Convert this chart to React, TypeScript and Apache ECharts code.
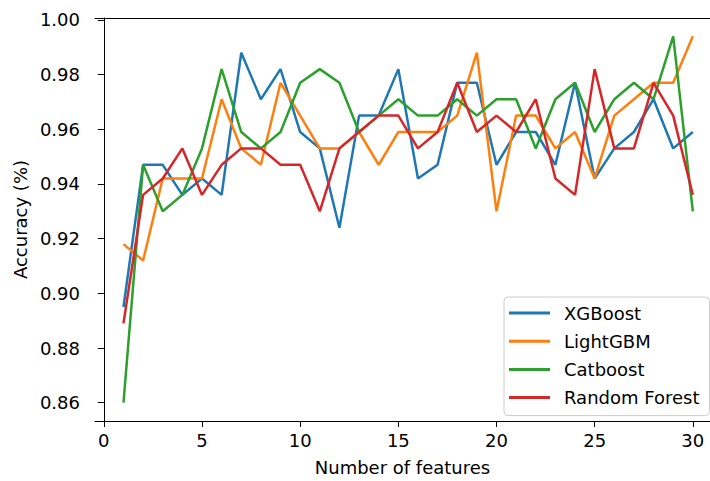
import React, { useEffect, useRef } from "react";
import * as echarts from "echarts";

const features = [1, 2, 3, 4, 5, 6, 7, 8, 9, 10, 11, 12, 13, 14, 15, 16, 17, 18, 19, 20, 21, 22, 23, 24, 25, 26, 27, 28, 29, 30];

const xgboost = [0.895, 0.947, 0.947, 0.936, 0.942, 0.936, 0.988, 0.971, 0.982, 0.959, 0.953, 0.924, 0.965, 0.965, 0.982, 0.942, 0.947, 0.977, 0.977, 0.947, 0.959, 0.959, 0.947, 0.977, 0.942, 0.953, 0.959, 0.971, 0.953, 0.959];
const lightgbm = [0.918, 0.912, 0.942, 0.942, 0.942, 0.971, 0.953, 0.947, 0.977, 0.965, 0.953, 0.953, 0.959, 0.947, 0.959, 0.959, 0.959, 0.965, 0.988, 0.930, 0.965, 0.965, 0.953, 0.959, 0.942, 0.965, 0.971, 0.977, 0.977, 0.994];
const catboost = [0.860, 0.947, 0.930, 0.936, 0.953, 0.982, 0.959, 0.953, 0.959, 0.977, 0.982, 0.977, 0.959, 0.965, 0.971, 0.965, 0.965, 0.971, 0.965, 0.971, 0.971, 0.953, 0.971, 0.977, 0.959, 0.971, 0.977, 0.971, 0.994, 0.930];
const randomForest = [0.889, 0.936, 0.942, 0.953, 0.936, 0.947, 0.953, 0.953, 0.947, 0.947, 0.930, 0.953, 0.959, 0.965, 0.965, 0.953, 0.959, 0.977, 0.959, 0.965, 0.959, 0.971, 0.942, 0.936, 0.982, 0.953, 0.953, 0.977, 0.965, 0.936];

const seriesNames = ["XGBoost", "LightGBM", "Catboost", "Random Forest"];
const seriesColors = ["#1f77b4", "#ff7f0e", "#2ca02c", "#d62728"];
const seriesValues = [xgboost, lightgbm, catboost, randomForest];

const xTicks = [0, 5, 10, 15, 20, 25, 30];
const yTicks = [0.86, 0.88, 0.9, 0.92, 0.94, 0.96, 0.98, 1.0];

const FONT = "DejaVu Sans";
const FS = 18;

export default function App() {
  const ref = useRef<HTMLDivElement>(null);
  useEffect(() => {
    document.body.style.margin = "0";
    const chart = echarts.init(ref.current!, null, { renderer: "svg" });
    const xMin = -0.45;
    const xMax = xMin + 615 / 19.633;
    chart.setOption({
      animation: false,
      backgroundColor: "#ffffff",
      textStyle: { fontFamily: FONT },
      grid: {
        left: 95,
        top: 18,
        bottom: 58,
        right: 0,
        show: false,
        containLabel: false,
      },
      legend: {
        orient: "vertical",
        left: 504,
        top: 297,
        width: 204,
        padding: [6, 10, 8, 5],
        itemWidth: 41,
        itemHeight: 3,
        itemGap: 8.2,
        icon: "rect",
        borderColor: "#cccccc",
        borderWidth: 1,
        borderRadius: 4,
        backgroundColor: "rgba(255,255,255,0.8)",
        textStyle: {
          fontFamily: FONT,
          fontSize: FS,
          color: "#000",
          lineHeight: 20,
          padding: [0, 0, 0, 9],
        },
        data: seriesNames,
      },
      xAxis: [
        {
          type: "value",
          min: xMin,
          max: xMax,
          name: "Number of features",
          nameLocation: "middle",
          nameGap: 37,
          nameTextStyle: { fontFamily: FONT, fontSize: FS, color: "#000" },
          axisLine: { show: true, lineStyle: { color: "#000", width: 1 } },
          axisTick: { show: true, length: 6, lineStyle: { color: "#000" }, customValues: xTicks },
          axisLabel: {
            customValues: xTicks,
            margin: 10,
            fontFamily: FONT,
            fontSize: FS,
            color: "#000",
            formatter: (v: number) => String(Math.round(v)),
          },
          splitLine: { show: false },
        },
        {
          type: "value",
          position: "top",
          min: xMin,
          max: xMax,
          axisLine: { show: true, onZero: false, lineStyle: { color: "#000", width: 1 } },
          axisTick: { show: false },
          axisLabel: { show: false },
          splitLine: { show: false },
        },
      ],
      yAxis: {
        type: "value",
        min: 0.8533,
        max: 1.0007,
        name: "Accuracy (%)",
        nameLocation: "middle",
        nameGap: 66,
        nameTextStyle: { fontFamily: FONT, fontSize: FS, color: "#000" },
        axisLine: { show: true, lineStyle: { color: "#000", width: 1 } },
        axisTick: { show: true, length: 6, lineStyle: { color: "#000" }, customValues: yTicks },
        axisLabel: {
          customValues: yTicks,
          margin: 15,
          fontFamily: FONT,
          fontSize: FS,
          color: "#000",
          formatter: (v: number) => v.toFixed(2),
        },
        splitLine: { show: false },
      },
      series: seriesNames.map((name, i) => ({
        name,
        type: "line",
        xAxisIndex: 0,
        data: features.map((f, j) => [f, seriesValues[i][j]]),
        showSymbol: false,
        symbol: "none",
        lineStyle: { color: seriesColors[i], width: 2.5 },
        itemStyle: { color: seriesColors[i] },
        z: 2 + i,
      })),
    });
    return () => chart.dispose();
  }, []);
  return <div ref={ref} style={{ width: 710, height: 481 }} />;
}
